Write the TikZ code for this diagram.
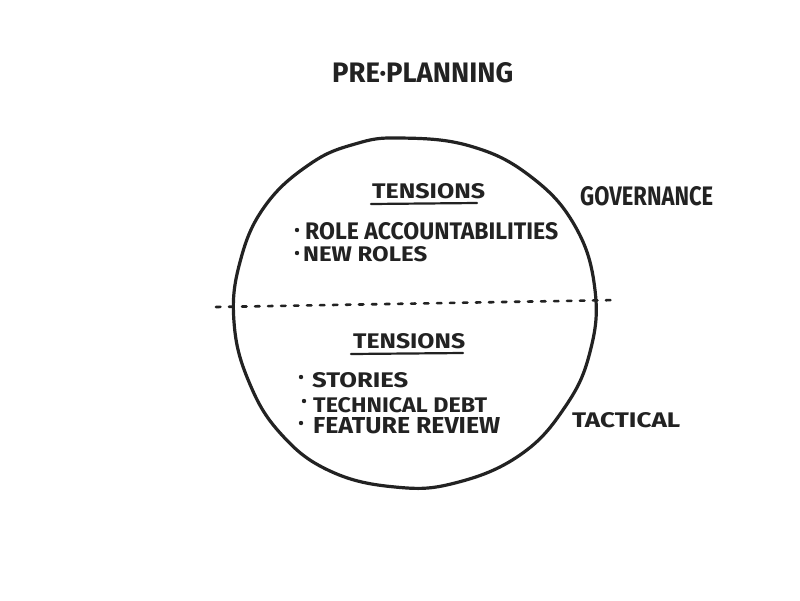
\documentclass[tikz,border=0pt]{standalone}
\usepackage{fontspec}
\usepackage{graphicx}
\setsansfont{Fira Sans}
\definecolor{ink}{HTML}{222222}
% fit a handwritten-style label into a given width and cap height
\newcommand{\inkfit}[3]{\resizebox{#1}{#2}{\sffamily\bfseries #3}}
\begin{document}
\begin{tikzpicture}[x=1pt,y=-1pt,
  marker/.style={draw=ink,line width=3.2pt,line cap=round,line join=round},
  lbl/.style={anchor=north west,inner sep=0pt,text=ink},
  bullet/.style={fill=ink,draw=none},
  rule/.style={draw=ink,line width=2.2pt,line cap=round}]
\useasboundingbox[fill=white] (0,0) rectangle (800,600);

% title
\node[lbl] (title) at (332,62) {\inkfit{181pt}{20pt}{PRE·PLANNING}};

% the meeting circle
\draw[marker] plot[smooth cycle,tension=0.7] coordinates {
  (400,138) (470,146) (530,176) (575,226) (595,290) (590,352)
  (565,407) (520,455) (455,483) (395,487) (330,471) (281,434)
  (249,382) (234,322) (240,262) (265,206) (310,164) (355,144)};

% divider between governance and tactical
\draw[draw=ink,line width=2.6pt,line cap=round,dash pattern=on 4.5pt off 8.5pt]
  (216,307) -- (618,300);

% upper half: governance tensions
\node[lbl] (tensA) at (372,183) {\inkfit{113pt}{15pt}{TENSIONS}};
\draw[rule] (371,204) -- (477,203);
\fill[bullet] (297,230) circle (2.2pt);
\node[lbl] (roleacc) at (305,222) {\inkfit{253pt}{17pt}{ROLE ACCOUNTABILITIES}};
\fill[bullet] (297,253) circle (2.2pt);
\node[lbl] (newroles) at (303,246) {\inkfit{124pt}{15pt}{NEW ROLES}};

% lower half: tactical tensions
\node[lbl] (tensB) at (353,333) {\inkfit{112pt}{15pt}{TENSIONS}};
\draw[rule] (351,354) -- (463,353);
\fill[bullet] (301,377) circle (2.2pt);
\node[lbl] (stories) at (312,372) {\inkfit{96pt}{15pt}{STORIES}};
\fill[bullet] (304,401) circle (2.2pt);
\node[lbl] (techdebt) at (313,397) {\inkfit{174pt}{15pt}{TECHNICAL DEBT}};
\fill[bullet] (301,423) circle (2.2pt);
\node[lbl] (feature) at (313,417) {\inkfit{187pt}{16pt}{FEATURE REVIEW}};

% side labels
\node[lbl] (gov) at (580,186) {\inkfit{133pt}{19pt}{GOVERNANCE}};
\node[lbl] (tact) at (572,412) {\inkfit{108pt}{15pt}{TACTICAL}};
\end{tikzpicture}
\end{document}
